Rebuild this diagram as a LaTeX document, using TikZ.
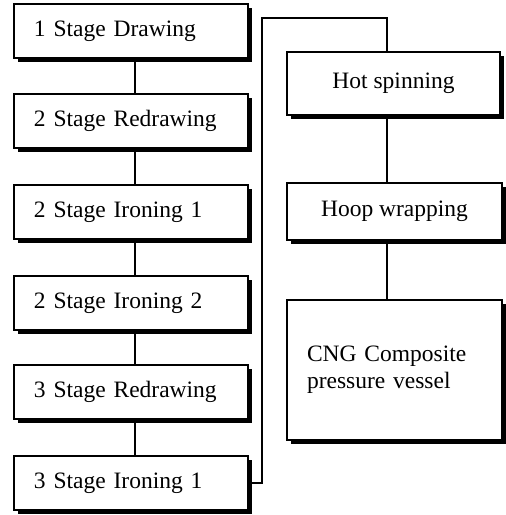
\documentclass[tikz,border=0pt]{standalone}
\usepackage{fontspec}
\setmainfont{Liberation Serif}
\usetikzlibrary{shadows}
\begin{document}
\begin{tikzpicture}[x=1pt,y=-1pt,
  stagebox/.style={draw=black,fill=white,line width=1.4pt,
    drop shadow={shadow xshift=3.5pt,shadow yshift=-3.5pt,fill=black,opacity=1},
    font=\fontsize{23.5}{27}\selectfont},
  leftbox/.style={stagebox,minimum height=54pt,inner xsep=20pt,text width=194pt,align=left},
  rightbox/.style={stagebox,align=center},
  link/.style={line width=1.3pt}]
\useasboundingbox (0,0) rectangle (506,515);
\node[leftbox] (b1) at (131,31) {1 Stage Drawing};
\node[leftbox] (b2) at (131,121) {2 Stage Redrawing};
\node[leftbox] (b3) at (131,212) {2 Stage Ironing 1};
\node[leftbox] (b4) at (131,303) {2 Stage Ironing 2};
\node[leftbox] (b5) at (131,392) {3 Stage Redrawing};
\node[leftbox] (b6) at (131,483) {3 Stage Ironing 1};
\node[rightbox,minimum width=213pt,minimum height=63pt] (r1) at (393.5,83.5) {Hot spinning};
\node[rightbox,minimum width=215pt,minimum height=57pt] (r2) at (394.5,211.5) {Hoop wrapping};
\node[stagebox,minimum width=215pt,minimum height=140pt,text width=175pt,inner xsep=20pt,align=left] (r3) at (394.5,370) {CNG Composite\\pressure vessel};
\coordinate (ca) at (262,483);
\coordinate (cb) at (262,18);
\coordinate (cc) at (387,18);
\foreach \a/\b in {b1/b2,b2/b3,b3/b4,b4/b5,b5/b6}
  \draw[link] ([xshift=4pt]\a.south) -- ([xshift=4pt]\b.north);
\draw[link] (b6.east) -- (ca) -- (cb) -- (cc) -- (cc |- r1.north);
\draw[link] ([xshift=-6.5pt]r1.south) -- ([xshift=-7.5pt]r2.north);
\draw[link] ([xshift=-7.5pt]r2.south) -- ([xshift=-7.5pt]r3.north);
\end{tikzpicture}
\end{document}
